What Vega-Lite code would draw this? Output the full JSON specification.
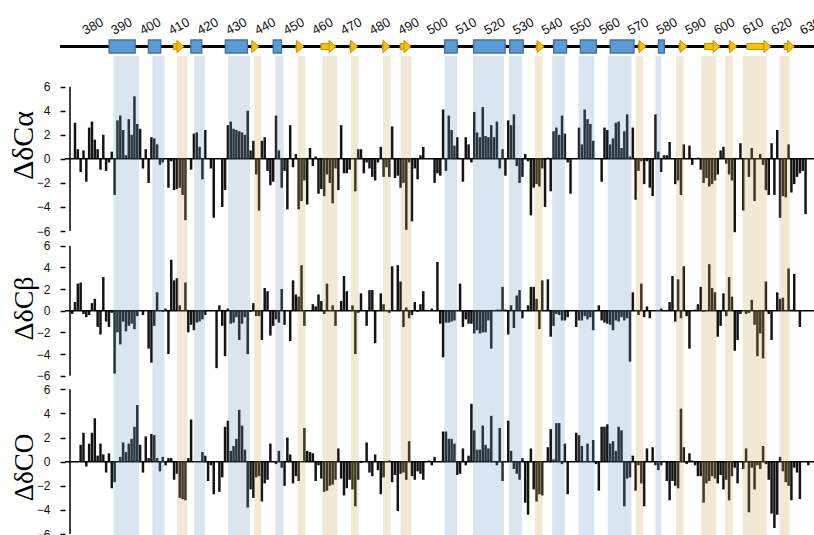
{
"$schema": "https://vega.github.io/schema/vega-lite/v6.json",
"background": "white",
"padding": {"left": 8, "top": 0, "right": 0, "bottom": 0},
"autosize": {"type": "pad"},
"config": {"view": {"stroke": null}, "font": "Liberation Sans", "axis": {"labelOverlap": false, "labelSeparation": 0, "labelBound": false}, "axisY": {"labelOverlap": false}, "axisLeft": {"labelOverlap": false}},
"spacing": 0,
"bounds": "flush",
"datasets": {
"ss": [
{"type":"helix","start":385.6,"end":394.7},
{"type":"helix","start":399.3,"end":403.6},
{"type":"strand","start":408.0,"end":411.7},
{"type":"helix","start":414.1,"end":417.9},
{"type":"helix","start":426.1,"end":433.8},
{"type":"strand","start":435.3,"end":437.8},
{"type":"helix","start":442.8,"end":445.7},
{"type":"strand","start":450.7,"end":453.4},
{"type":"strand","start":459.4,"end":464.7},
{"type":"strand","start":469.5,"end":472.2},
{"type":"strand","start":480.8,"end":483.5},
{"type":"strand","start":487.0,"end":490.8},
{"type":"helix","start":502.5,"end":506.9},
{"type":"helix","start":512.6,"end":523.6},
{"type":"helix","start":525.2,"end":529.9},
{"type":"strand","start":534.4,"end":537.2},
{"type":"helix","start":540.5,"end":545.0},
{"type":"helix","start":549.8,"end":555.4},
{"type":"helix","start":560.2,"end":568.5},
{"type":"strand","start":570.0,"end":572.7},
{"type":"helix","start":577.0,"end":579.1},
{"type":"strand","start":584.2,"end":587.0},
{"type":"strand","start":593.1,"end":598.5},
{"type":"strand","start":601.6,"end":604.3},
{"type":"strand","start":607.8,"end":616.2},
{"type":"strand","start":620.8,"end":624.4}
],
"ticks": [{"t":380},{"t":390},{"t":400},{"t":410},{"t":420},{"t":430},{"t":440},{"t":450},{"t":460},{"t":470},{"t":480},{"t":490},{"t":500},{"t":510},{"t":520},{"t":530},{"t":540},{"t":550},{"t":560},{"t":570},{"t":580},{"t":590},{"t":600},{"t":610},{"t":620},{"t":630}],
"yticks": [{"v":-6},{"v":-4},{"v":-2},{"v":0},{"v":2},{"v":4},{"v":6}],
"shifts": [
{"res":371,"ca":null,"cb":-0.3,"co":null},
{"res":372,"ca":3.0,"cb":0.8,"co":null},
{"res":373,"ca":0.8,"cb":2.5,"co":null},
{"res":374,"ca":-1.1,"cb":2.6,"co":1.4},
{"res":375,"ca":0.7,"cb":-0.3,"co":2.4},
{"res":376,"ca":-1.9,"cb":-0.6,"co":-0.4},
{"res":377,"ca":2.6,"cb":-0.4,"co":1.5},
{"res":378,"ca":3.1,"cb":0.7,"co":2.4},
{"res":379,"ca":1.6,"cb":1.1,"co":3.6},
{"res":380,"ca":0.8,"cb":-1.5,"co":0.5},
{"res":381,"ca":-0.9,"cb":-2.2,"co":1.5},
{"res":382,"ca":2.0,"cb":3.1,"co":0.6},
{"res":383,"ca":-1.0,"cb":-1.0,"co":-0.9},
{"res":384,"ca":-0.3,"cb":-1.5,"co":0.7},
{"res":385,"ca":0.6,"cb":-0.2,"co":-2.2},
{"res":386,"ca":-3.0,"cb":-5.8,"co":-1.7},
{"res":387,"ca":3.2,"cb":-2.0,"co":null},
{"res":388,"ca":3.6,"cb":-3.1,"co":0.4},
{"res":389,"ca":2.4,"cb":-1.0,"co":1.6},
{"res":390,"ca":0.3,"cb":-1.9,"co":0.8},
{"res":391,"ca":3.3,"cb":-1.4,"co":1.5},
{"res":392,"ca":2.0,"cb":-1.2,"co":1.9},
{"res":393,"ca":5.2,"cb":-1.7,"co":2.9},
{"res":394,"ca":2.9,"cb":-0.5,"co":4.7},
{"res":395,"ca":2.5,"cb":null,"co":1.4},
{"res":396,"ca":-0.8,"cb":-0.4,"co":-0.9},
{"res":397,"ca":0.8,"cb":null,"co":2.1},
{"res":398,"ca":-2.0,"cb":-3.5,"co":0.3},
{"res":399,"ca":1.8,"cb":-4.8,"co":2.3},
{"res":400,"ca":1.7,"cb":-1.4,"co":2.2},
{"res":401,"ca":1.2,"cb":1.7,"co":0.3},
{"res":402,"ca":-0.5,"cb":null,"co":-0.8},
{"res":403,"ca":-0.3,"cb":-0.1,"co":0.4},
{"res":404,"ca":null,"cb":0.2,"co":-0.3},
{"res":405,"ca":-2.4,"cb":-4.0,"co":0.3},
{"res":406,"ca":-0.2,"cb":4.7,"co":0.3},
{"res":407,"ca":-2.6,"cb":2.8,"co":-1.5},
{"res":408,"ca":-2.5,"cb":3.0,"co":-1.0},
{"res":409,"ca":-2.4,"cb":0.5,"co":-3.0},
{"res":410,"ca":-3.0,"cb":null,"co":-3.1},
{"res":411,"ca":-5.1,"cb":2.6,"co":-3.2},
{"res":412,"ca":null,"cb":-2.0,"co":0.3},
{"res":413,"ca":-0.9,"cb":-1.3,"co":3.5},
{"res":414,"ca":2.1,"cb":-1.8,"co":null},
{"res":415,"ca":2.2,"cb":-1.1,"co":null},
{"res":416,"ca":1.0,"cb":-1.0,"co":null},
{"res":417,"ca":-1.7,"cb":-0.8,"co":0.8},
{"res":418,"ca":2.4,"cb":-0.4,"co":0.5},
{"res":419,"ca":null,"cb":null,"co":-1.6},
{"res":420,"ca":-0.8,"cb":null,"co":-0.3},
{"res":421,"ca":-4.9,"cb":null,"co":-2.7},
{"res":422,"ca":null,"cb":-5.3,"co":null},
{"res":423,"ca":null,"cb":0.5,"co":-2.5},
{"res":424,"ca":-4.0,"cb":-1.4,"co":-1.3},
{"res":425,"ca":-2.6,"cb":-4.2,"co":2.9},
{"res":426,"ca":2.8,"cb":0.2,"co":3.4},
{"res":427,"ca":3.1,"cb":-1.2,"co":0.9},
{"res":428,"ca":2.5,"cb":-1.1,"co":1.3},
{"res":429,"ca":2.4,"cb":-0.6,"co":1.9},
{"res":430,"ca":2.3,"cb":-2.7,"co":4.3},
{"res":431,"ca":2.2,"cb":-1.2,"co":3.0},
{"res":432,"ca":2.0,"cb":-0.6,"co":1.0},
{"res":433,"ca":4.0,"cb":-4.0,"co":-3.8},
{"res":434,"ca":0.7,"cb":-0.1,"co":-2.3},
{"res":435,"ca":1.5,"cb":0.7,"co":-3.0},
{"res":436,"ca":-1.3,"cb":-0.5,"co":-1.3},
{"res":437,"ca":-4.3,"cb":-0.5,"co":-1.2},
{"res":438,"ca":1.5,"cb":-2.7,"co":-3.3},
{"res":439,"ca":1.8,"cb":2.1,"co":-1.8},
{"res":440,"ca":-1.0,"cb":1.8,"co":-1.5},
{"res":441,"ca":-2.2,"cb":-2.3,"co":1.5},
{"res":442,"ca":-1.9,"cb":-1.4,"co":null},
{"res":443,"ca":3.6,"cb":-0.8,"co":-0.2},
{"res":444,"ca":0.7,"cb":-1.1,"co":0.9},
{"res":445,"ca":-2.4,"cb":2.0,"co":-0.5},
{"res":446,"ca":-1.0,"cb":-1.3,"co":-2.0},
{"res":447,"ca":-4.2,"cb":null,"co":2.0},
{"res":448,"ca":2.8,"cb":-2.8,"co":0.6},
{"res":449,"ca":-0.7,"cb":2.8,"co":-1.8},
{"res":450,"ca":0.4,"cb":1.5,"co":-1.2},
{"res":451,"ca":-4.2,"cb":1.3,"co":-1.6},
{"res":452,"ca":-3.5,"cb":4.2,"co":null},
{"res":453,"ca":-1.8,"cb":-1.4,"co":2.8},
{"res":454,"ca":-3.8,"cb":null,"co":0.9},
{"res":455,"ca":0.9,"cb":null,"co":0.8},
{"res":456,"ca":-0.6,"cb":0.6,"co":0.7},
{"res":457,"ca":0.2,"cb":0.4,"co":-1.6},
{"res":458,"ca":-2.9,"cb":1.5,"co":-0.3},
{"res":459,"ca":-2.5,"cb":0.9,"co":-1.4},
{"res":460,"ca":-3.1,"cb":-0.3,"co":-2.5},
{"res":461,"ca":-1.3,"cb":2.5,"co":-2.4},
{"res":462,"ca":-2.0,"cb":null,"co":-2.0},
{"res":463,"ca":-3.7,"cb":0.5,"co":-1.9},
{"res":464,"ca":-0.8,"cb":-1.4,"co":-1.5},
{"res":465,"ca":-2.6,"cb":null,"co":1.1},
{"res":466,"ca":2.8,"cb":0.9,"co":-1.4},
{"res":467,"ca":-1.2,"cb":3.2,"co":-2.8},
{"res":468,"ca":-1.2,"cb":1.8,"co":-2.2},
{"res":469,"ca":-0.9,"cb":null,"co":-1.5},
{"res":470,"ca":null,"cb":0.5,"co":-2.3},
{"res":471,"ca":-2.7,"cb":-4.0,"co":-3.7},
{"res":472,"ca":0.8,"cb":-0.2,"co":-1.5},
{"res":473,"ca":0.8,"cb":1.6,"co":-0.1},
{"res":474,"ca":-1.2,"cb":null,"co":null},
{"res":475,"ca":-0.3,"cb":-1.4,"co":1.6},
{"res":476,"ca":-0.8,"cb":1.9,"co":-0.9},
{"res":477,"ca":-1.5,"cb":1.9,"co":-1.2},
{"res":478,"ca":-1.8,"cb":-3.0,"co":0.6},
{"res":479,"ca":-0.3,"cb":null,"co":-0.7},
{"res":480,"ca":1.0,"cb":1.6,"co":-2.7},
{"res":481,"ca":-1.5,"cb":0.6,"co":-1.3},
{"res":482,"ca":-0.7,"cb":null,"co":null},
{"res":483,"ca":-1.5,"cb":-0.2,"co":0.1},
{"res":484,"ca":2.7,"cb":4.1,"co":-1.7},
{"res":485,"ca":-1.6,"cb":null,"co":-1.1},
{"res":486,"ca":-1.4,"cb":4.2,"co":-4.1},
{"res":487,"ca":-2.4,"cb":2.7,"co":-1.0},
{"res":488,"ca":-2.0,"cb":-1.5,"co":-0.9},
{"res":489,"ca":-5.9,"cb":0.3,"co":-1.5},
{"res":490,"ca":-0.3,"cb":-0.7,"co":1.7},
{"res":491,"ca":-5.2,"cb":-0.4,"co":-1.2},
{"res":492,"ca":-0.8,"cb":0.8,"co":-1.5},
{"res":493,"ca":-1.7,"cb":-0.1,"co":-0.8},
{"res":494,"ca":0.3,"cb":0.6,"co":-1.0},
{"res":495,"ca":1.0,"cb":1.8,"co":-1.5},
{"res":496,"ca":null,"cb":null,"co":null},
{"res":497,"ca":null,"cb":null,"co":0.1},
{"res":498,"ca":null,"cb":0.2,"co":-0.3},
{"res":499,"ca":-2.0,"cb":null,"co":0.4},
{"res":500,"ca":-1.2,"cb":4.5,"co":null},
{"res":501,"ca":-1.4,"cb":-1.2,"co":null},
{"res":502,"ca":4.1,"cb":-4.3,"co":2.5},
{"res":503,"ca":-1.0,"cb":-1.1,"co":2.5},
{"res":504,"ca":3.6,"cb":-1.1,"co":1.9},
{"res":505,"ca":2.4,"cb":-1.0,"co":1.9},
{"res":506,"ca":1.1,"cb":-0.9,"co":1.5},
{"res":507,"ca":1.8,"cb":null,"co":-1.1},
{"res":508,"ca":null,"cb":2.5,"co":-1.0},
{"res":509,"ca":-1.9,"cb":-1.5,"co":1.1},
{"res":510,"ca":1.8,"cb":-0.8,"co":-0.3},
{"res":511,"ca":1.2,"cb":-1.2,"co":0.5},
{"res":512,"ca":-0.3,"cb":-1.2,"co":4.8},
{"res":513,"ca":3.9,"cb":-2.1,"co":2.6},
{"res":514,"ca":2.2,"cb":-1.8,"co":1.0},
{"res":515,"ca":1.8,"cb":-2.1,"co":1.0},
{"res":516,"ca":4.3,"cb":-2.0,"co":3.0},
{"res":517,"ca":1.9,"cb":-2.0,"co":1.4},
{"res":518,"ca":1.8,"cb":-0.9,"co":1.1},
{"res":519,"ca":2.8,"cb":-3.5,"co":3.8},
{"res":520,"ca":1.8,"cb":null,"co":null},
{"res":521,"ca":3.1,"cb":0.1,"co":-0.3},
{"res":522,"ca":-0.8,"cb":0.1,"co":2.8},
{"res":523,"ca":0.8,"cb":2.2,"co":-1.6},
{"res":524,"ca":-1.4,"cb":0.1,"co":null},
{"res":525,"ca":3.2,"cb":-2.2,"co":3.4},
{"res":526,"ca":2.8,"cb":0.5,"co":0.9},
{"res":527,"ca":3.7,"cb":-1.6,"co":-0.6},
{"res":528,"ca":-0.6,"cb":1.4,"co":-1.0},
{"res":529,"ca":-2.0,"cb":1.9,"co":-1.5},
{"res":530,"ca":-1.5,"cb":-0.7,"co":0.3},
{"res":531,"ca":0.4,"cb":null,"co":-3.4},
{"res":532,"ca":-0.2,"cb":0.5,"co":-4.4},
{"res":533,"ca":-4.7,"cb":2.2,"co":1.1},
{"res":534,"ca":-2.4,"cb":2.2,"co":-2.3},
{"res":535,"ca":-2.1,"cb":1.1,"co":-3.3},
{"res":536,"ca":-2.3,"cb":-1.7,"co":-2.7},
{"res":537,"ca":-0.8,"cb":2.8,"co":-2.8},
{"res":538,"ca":-4.0,"cb":null,"co":null},
{"res":539,"ca":0.1,"cb":2.9,"co":1.2},
{"res":540,"ca":-2.7,"cb":-2.4,"co":2.7},
{"res":541,"ca":2.3,"cb":-1.4,"co":0.2},
{"res":542,"ca":2.6,"cb":-0.3,"co":3.2},
{"res":543,"ca":2.0,"cb":-0.4,"co":3.2},
{"res":544,"ca":3.6,"cb":-0.9,"co":-0.2},
{"res":545,"ca":2.1,"cb":-0.9,"co":1.5},
{"res":546,"ca":-0.3,"cb":-0.6,"co":-2.7},
{"res":547,"ca":-2.9,"cb":null,"co":null},
{"res":548,"ca":null,"cb":null,"co":null},
{"res":549,"ca":null,"cb":-1.5,"co":2.4},
{"res":550,"ca":2.6,"cb":-0.9,"co":2.2},
{"res":551,"ca":1.2,"cb":-0.9,"co":1.3},
{"res":552,"ca":4.1,"cb":-0.5,"co":null},
{"res":553,"ca":3.3,"cb":-0.8,"co":1.5},
{"res":554,"ca":2.9,"cb":-0.6,"co":null},
{"res":555,"ca":1.5,"cb":-1.8,"co":1.8},
{"res":556,"ca":null,"cb":null,"co":-0.2},
{"res":557,"ca":null,"cb":0.5,"co":-2.4},
{"res":558,"ca":-1.9,"cb":-0.9,"co":2.9},
{"res":559,"ca":2.6,"cb":-1.1,"co":2.9},
{"res":560,"ca":2.4,"cb":-1.2,"co":3.1},
{"res":561,"ca":1.2,"cb":-1.3,"co":1.5},
{"res":562,"ca":1.7,"cb":-1.8,"co":1.7},
{"res":563,"ca":3.0,"cb":-0.9,"co":0.9},
{"res":564,"ca":3.1,"cb":-1.0,"co":2.9},
{"res":565,"ca":0.9,"cb":-0.6,"co":2.6},
{"res":566,"ca":2.3,"cb":-0.9,"co":-3.7},
{"res":567,"ca":3.7,"cb":-0.7,"co":-1.4},
{"res":568,"ca":0.2,"cb":-4.7,"co":-1.3},
{"res":569,"ca":2.6,"cb":1.7,"co":0.5},
{"res":570,"ca":-3.4,"cb":null,"co":-2.4},
{"res":571,"ca":-1.0,"cb":-0.4,"co":-0.3},
{"res":572,"ca":-0.2,"cb":2.5,"co":-1.8},
{"res":573,"ca":-2.1,"cb":-0.6,"co":-3.7},
{"res":574,"ca":-0.2,"cb":0.4,"co":1.1},
{"res":575,"ca":-2.4,"cb":-0.7,"co":null},
{"res":576,"ca":-3.1,"cb":null,"co":1.2},
{"res":577,"ca":3.7,"cb":null,"co":-0.3},
{"res":578,"ca":0.6,"cb":null,"co":-0.7},
{"res":579,"ca":-1.1,"cb":0.2,"co":-0.3},
{"res":580,"ca":0.3,"cb":null,"co":null},
{"res":581,"ca":0.3,"cb":null,"co":-1.6},
{"res":582,"ca":1.4,"cb":0.8,"co":-3.2},
{"res":583,"ca":null,"cb":3.2,"co":-1.6},
{"res":584,"ca":-2.1,"cb":-1.0,"co":-2.0},
{"res":585,"ca":-1.8,"cb":2.9,"co":-2.2},
{"res":586,"ca":-3.0,"cb":-0.7,"co":4.4},
{"res":587,"ca":1.2,"cb":4.1,"co":1.2},
{"res":588,"ca":null,"cb":-0.5,"co":-0.2},
{"res":589,"ca":1.1,"cb":-3.5,"co":0.7},
{"res":590,"ca":-0.5,"cb":null,"co":0.1},
{"res":591,"ca":null,"cb":0.1,"co":-0.3},
{"res":592,"ca":0.1,"cb":0.6,"co":-1.2},
{"res":593,"ca":-0.9,"cb":2.2,"co":-1.2},
{"res":594,"ca":-2.0,"cb":-0.1,"co":-3.4},
{"res":595,"ca":-1.6,"cb":null,"co":-1.8},
{"res":596,"ca":-2.3,"cb":4.3,"co":-1.6},
{"res":597,"ca":-2.1,"cb":2.1,"co":-1.2},
{"res":598,"ca":-1.8,"cb":1.7,"co":-1.4},
{"res":599,"ca":-1.3,"cb":-2.4,"co":-1.8},
{"res":600,"ca":0.7,"cb":-1.4,"co":-1.1},
{"res":601,"ca":1.0,"cb":1.6,"co":-2.3},
{"res":602,"ca":-0.4,"cb":-0.5,"co":-1.5},
{"res":603,"ca":-1.3,"cb":3.1,"co":-3.2},
{"res":604,"ca":-1.8,"cb":1.3,"co":-1.2},
{"res":605,"ca":-6.1,"cb":-3.7,"co":-0.5},
{"res":606,"ca":null,"cb":-2.7,"co":-1.8},
{"res":607,"ca":1.3,"cb":-0.3,"co":null},
{"res":608,"ca":-4.3,"cb":null,"co":-0.6},
{"res":609,"ca":null,"cb":-0.3,"co":1.1},
{"res":610,"ca":-1.5,"cb":-0.2,"co":-4.2},
{"res":611,"ca":0.9,"cb":1.0,"co":-0.5},
{"res":612,"ca":-3.5,"cb":-1.3,"co":-2.3},
{"res":613,"ca":null,"cb":-4.2,"co":-0.3},
{"res":614,"ca":0.4,"cb":-2.1,"co":-0.6},
{"res":615,"ca":-0.5,"cb":-4.4,"co":1.3},
{"res":616,"ca":-2.6,"cb":2.7,"co":-0.2},
{"res":617,"ca":-3.0,"cb":-0.3,"co":-1.5},
{"res":618,"ca":1.3,"cb":-2.7,"co":-4.3},
{"res":619,"ca":-3.0,"cb":null,"co":-5.5},
{"res":620,"ca":2.4,"cb":1.7,"co":-4.4},
{"res":621,"ca":-4.9,"cb":1.1,"co":0.4},
{"res":622,"ca":-3.1,"cb":1.2,"co":-0.8},
{"res":623,"ca":-3.2,"cb":null,"co":-1.7},
{"res":624,"ca":1.2,"cb":3.9,"co":-2.0},
{"res":625,"ca":-2.8,"cb":0.1,"co":-3.2},
{"res":626,"ca":-2.1,"cb":3.4,"co":-0.5},
{"res":627,"ca":-1.5,"cb":null,"co":-0.9},
{"res":628,"ca":-1.2,"cb":-1.5,"co":-3.1},
{"res":629,"ca":-1.0,"cb":null,"co":null},
{"res":630,"ca":-4.6,"cb":null,"co":null},
{"res":631,"ca":null,"cb":null,"co":-0.3}
]
},
"vconcat": [
{
"width": 749, "height": 56,
"layer": [
{"data": {"values": [{}]},
 "mark": {"type": "rule", "color": "#000", "strokeWidth": 3},
 "encoding": {
  "x": {"datum": 368.5, "type": "quantitative", "scale": {"domain": [370.24, 631.22], "nice": false, "zero": false}, "axis": null},
  "x2": {"datum": 631.22},
  "y": {"datum": 0, "type": "quantitative", "scale": {"domain": [-1.46, 7.15], "nice": false, "zero": false}, "axis": null}
 }},
{"data": {"name": "ss"},
 "transform": [{"filter": "datum.type == 'helix'"}],
 "mark": {"type": "rect", "fill": "#5b9bd5", "stroke": "#41719c", "strokeWidth": 1.3},
 "encoding": {
  "x": {"field": "start", "type": "quantitative"},
  "x2": {"field": "end"},
  "y": {"datum": -1, "type": "quantitative"},
  "y2": {"datum": 1}
 }},
{"data": {"name": "ss"},
 "transform": [{"filter": "datum.type == 'strand'"}],
 "mark": {"type": "rect", "fill": "#ffc000", "stroke": "#c09000", "strokeWidth": 1, "x2Offset": -5},
 "encoding": {
  "x": {"field": "start", "type": "quantitative"},
  "x2": {"field": "end"},
  "y": {"datum": -0.45, "type": "quantitative"},
  "y2": {"datum": 0.45}
 }},
{"data": {"name": "ss"},
 "transform": [{"filter": "datum.type == 'strand'"}],
 "mark": {"type": "point", "shape": "M-1.15,-1L0,0L-1.15,1Z", "size": 150, "filled": true, "fill": "#ffc000", "stroke": "#c09000", "strokeWidth": 1, "opacity": 1},
 "encoding": {
  "x": {"field": "end", "type": "quantitative"},
  "y": {"datum": 0, "type": "quantitative"}
 }},
{"data": {"name": "ticks"},
 "mark": {"type": "text", "angle": -28, "fontSize": 13, "font": "Liberation Sans", "color": "#111", "align": "center", "baseline": "middle"},
 "encoding": {
  "x": {"field": "t", "type": "quantitative"},
  "y": {"datum": 3.08, "type": "quantitative"},
  "text": {"field": "t", "type": "quantitative"}
 }}
]
},
{
"width": 749, "height": 182,
"layer": [
{"data": {"name": "shifts"},
 "mark": {"type": "bar", "size": 2.5, "color": "#141414"},
 "encoding": {
  "x": {"field": "res", "type": "quantitative", "scale": {"domain": [370.24, 631.22], "nice": false, "zero": false}, "axis": null},
  "y": {"field": "ca", "type": "quantitative", "scale": {"domain": [-6.58, 8.55], "nice": false, "zero": false},
   "axis": {"values": [-6,-4,-2,0,2,4,6], "tickCount": 7, "labelOverlap": false, "domain": false, "grid": false, "tickColor": "#000", "tickSize": 5, "tickWidth": 1.5, "labelFont": "Liberation Sans", "labelFontSize": 12, "labelColor": "#111", "labelPadding": 10, "title": "ΔδCα", "titleFont": "Liberation Serif", "titleFontSize": 30, "titleFontWeight": "normal", "titleColor": "#000", "titleAngle": 270, "titleBaseline": "alphabetic", "titleX": -33, "titleY": 89}},
  "y2": {"datum": 0}
 }},
{"data": {"values": [{}]},
 "mark": {"type": "rule", "color": "#000", "strokeWidth": 1.5},
 "encoding": {"y": {"datum": 0, "type": "quantitative"}}},
{"data": {"name": "ss"},
 "mark": {"type": "rect", "opacity": 0.25},
 "encoding": {
  "x": {"field": "start", "type": "quantitative"},
  "x2": {"field": "end"},
  "color": {"field": "type", "type": "nominal", "scale": {"domain": ["helix", "strand"], "range": ["#6b97c3", "#c7a75b"]}, "legend": null}
 }},
{"data": {"values": [{}]},
 "mark": {"type": "rule", "color": "#000", "strokeWidth": 1.5},
 "encoding": {"x": {"datum": 370.24, "type": "quantitative"}, "y": {"datum": -6, "type": "quantitative"}, "y2": {"datum": 6}}}
]
},
{
"width": 749, "height": 144,
"layer": [
{"data": {"name": "shifts"},
 "mark": {"type": "bar", "size": 2.5, "color": "#141414"},
 "encoding": {
  "x": {"field": "res", "type": "quantitative", "scale": {"domain": [370.24, 631.22], "nice": false, "zero": false}, "axis": null},
  "y": {"field": "cb", "type": "quantitative", "scale": {"domain": [-6.58, 6.71], "nice": false, "zero": false},
   "axis": {"values": [-6,-4,-2,0,2,4,6], "tickCount": 7, "labelOverlap": false, "domain": false, "grid": false, "tickColor": "#000", "tickSize": 5, "tickWidth": 1.5, "labelFont": "Liberation Sans", "labelFontSize": 12, "labelColor": "#111", "labelPadding": 10, "title": "ΔδCβ", "titleFont": "Liberation Serif", "titleFontSize": 28, "titleFontWeight": "normal", "titleColor": "#000", "titleAngle": 270, "titleBaseline": "alphabetic", "titleX": -33, "titleY": 70}},
  "y2": {"datum": 0}
 }},
{"data": {"values": [{}]},
 "mark": {"type": "rule", "color": "#000", "strokeWidth": 1.5},
 "encoding": {"y": {"datum": 0, "type": "quantitative"}}},
{"data": {"name": "ss"},
 "mark": {"type": "rect", "opacity": 0.25},
 "encoding": {
  "x": {"field": "start", "type": "quantitative"},
  "x2": {"field": "end"},
  "color": {"field": "type", "type": "nominal", "scale": {"domain": ["helix", "strand"], "range": ["#6b97c3", "#c7a75b"]}, "legend": null}
 }},
{"data": {"values": [{}]},
 "mark": {"type": "rule", "color": "#000", "strokeWidth": 1.5},
 "encoding": {"x": {"datum": 370.24, "type": "quantitative"}, "y": {"datum": -6, "type": "quantitative"}, "y2": {"datum": 6}}}
]
},
{
"width": 749, "height": 153,
"layer": [
{"data": {"name": "shifts"},
 "mark": {"type": "bar", "size": 2.5, "color": "#141414"},
 "encoding": {
  "x": {"field": "res", "type": "quantitative", "scale": {"domain": [370.24, 631.22], "nice": false, "zero": false}, "axis": null},
  "y": {"field": "co", "type": "quantitative", "scale": {"domain": [-6.08, 6.61], "nice": false, "zero": false},
   "axis": {"values": [-6,-4,-2,0,2,4,6], "tickCount": 7, "labelOverlap": false, "domain": false, "grid": false, "tickColor": "#000", "tickSize": 5, "tickWidth": 1.5, "labelFont": "Liberation Sans", "labelFontSize": 12, "labelColor": "#111", "labelPadding": 10, "title": "ΔδCO", "titleFont": "Liberation Serif", "titleFontSize": 27, "titleFontWeight": "normal", "titleColor": "#000", "titleAngle": 270, "titleBaseline": "alphabetic", "titleX": -33, "titleY": 85}},
  "y2": {"datum": 0}
 }},
{"data": {"values": [{}]},
 "mark": {"type": "rule", "color": "#000", "strokeWidth": 1.5},
 "encoding": {"y": {"datum": 0, "type": "quantitative"}}},
{"data": {"name": "ss"},
 "mark": {"type": "rect", "opacity": 0.25},
 "encoding": {
  "x": {"field": "start", "type": "quantitative"},
  "x2": {"field": "end"},
  "color": {"field": "type", "type": "nominal", "scale": {"domain": ["helix", "strand"], "range": ["#6b97c3", "#c7a75b"]}, "legend": null}
 }},
{"data": {"values": [{}]},
 "mark": {"type": "rule", "color": "#000", "strokeWidth": 1.5},
 "encoding": {"x": {"datum": 370.24, "type": "quantitative"}, "y": {"datum": -6, "type": "quantitative"}, "y2": {"datum": 6}}}
]
}
]
}
